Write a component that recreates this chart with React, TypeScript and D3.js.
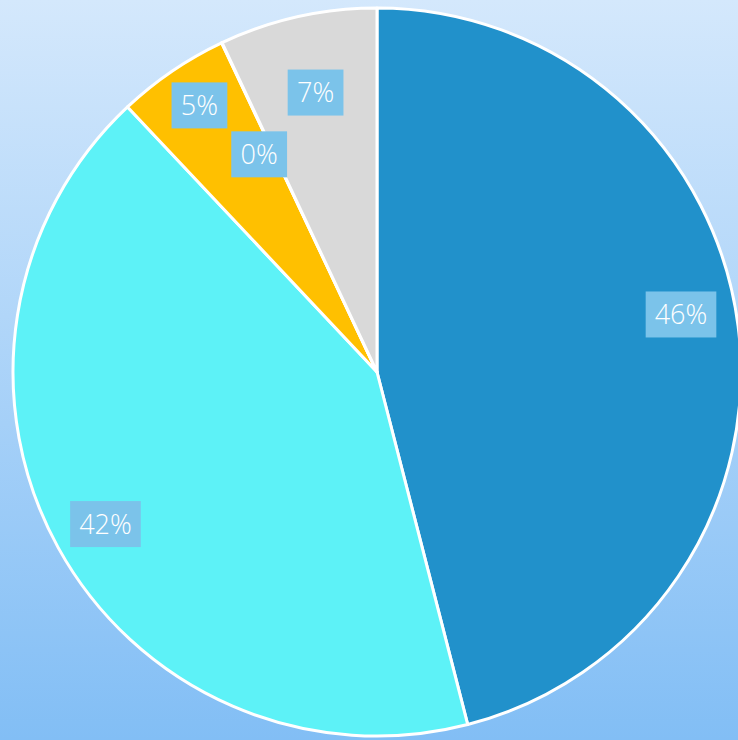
import React, { useEffect } from "react";
import * as d3 from "d3";

const categories = ["A", "B", "C", "D", "E"];
const values = [46, 42, 5, 0.02, 7];
const colors = ["#2191cb", "#5df2f7", "#ffc000", "#a5a5a5", "#d9d9d9"];
const labelTexts = ["46%", "42%", "5%", "0%", "7%"];
const labelRadius = [0.85, 0.855, 0.88, 0.68, 0.786];
const labelNudgeDeg = [-3.5, -0.4, 0.6, -3.2, 0.2];

const W = 738;
const H = 740;
const cx = 377;
const cy = 372;
const R = 364;

export default function App() {
  useEffect(() => {
    document.body.style.margin = "0";
  }, []);

  const pie = d3
    .pie<number>()
    .sort(null)
    .value((d) => d);
  const arcs = pie(values);
  const arcGen = d3.arc<d3.PieArcDatum<number>>().innerRadius(0).outerRadius(R);

  const fontSize = 27;
  const charW = (s: string) => {
    let w = 0;
    for (const c of s) w += c === "%" ? 0.843 : 0.572;
    return w * 26;
  };

  return (
    <svg
      width={W}
      height={H}
      style={{ position: "absolute", left: 0, top: 0, display: "block" }}
    >
      <defs>
        <linearGradient id="bg" x1="0" y1="0" x2="0" y2="1">
          <stop offset="0" stopColor="#d4e8fc" />
          <stop offset="1" stopColor="#82bef5" />
        </linearGradient>
      </defs>
      <rect x={0} y={0} width={W} height={H} fill="url(#bg)" />
      <g transform={`translate(${cx},${cy})`}>
        {arcs.map((a, i) => (
          <path
            key={categories[i]}
            d={arcGen(a) || ""}
            fill={colors[i]}
            stroke="#ffffff"
            strokeWidth={3}
            strokeLinejoin="round"
          />
        ))}
        {arcs.map((a, i) => {
          const mid = (a.startAngle + a.endAngle) / 2 + (labelNudgeDeg[i] * Math.PI) / 180;
          const r = labelRadius[i] * R;
          const x = Math.sin(mid) * r;
          const y = -Math.cos(mid) * r;
          const tw = charW(labelTexts[i]);
          const bw = tw + 19;
          const bh = 46;
          return (
            <g key={"l" + i} transform={`translate(${x},${y})`}>
              <rect x={-bw / 2} y={-bh / 2} width={bw} height={bh} fill="#7bc3ea" />
              <text
                x={0}
                y={0}
                dy="0.36em"
                textAnchor="middle"
                fill="#ffffff"
                fontFamily="'Open Sans', sans-serif"
                fontWeight={300}
                fontSize={fontSize}
              >
                {labelTexts[i]}
              </text>
            </g>
          );
        })}
      </g>
    </svg>
  );
}
